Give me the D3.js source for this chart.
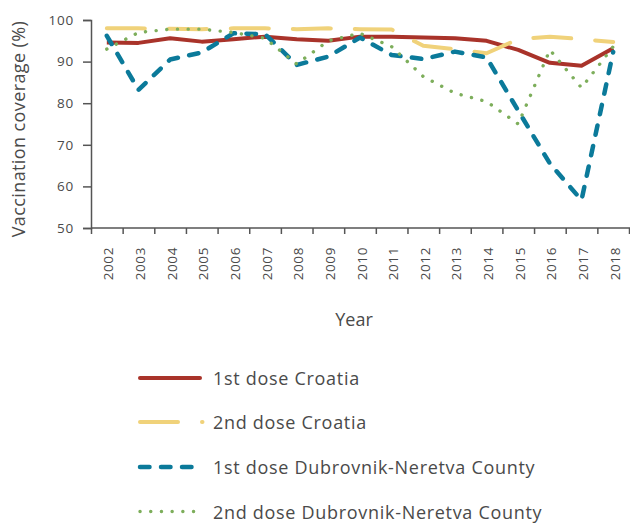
<!DOCTYPE html>
<html>
<head>
<meta charset="utf-8">
<script src="https://cdn.jsdelivr.net/npm/d3@7"></script>
<style>
  html, body { margin: 0; padding: 0; background: #fff; }
  svg { display: block; }
  text { font-family: "Open Sans", "Noto Sans", sans-serif; fill: #4a4a4a; }
</style>
</head>
<body>
<svg id="chart" width="630" height="525"></svg>
<script>
const years = ["2002","2003","2004","2005","2006","2007","2008","2009","2010","2011","2012","2013","2014","2015","2016","2017","2018"];
const yTicks = [50, 60, 70, 80, 90, 100];
const dose1Croatia = [94.6, 94.5, 95.6, 94.8, 95.4, 96.0, 95.4, 95.0, 96.0, 96.0, 95.8, 95.6, 95.0, 92.8, 89.7, 89.0, 93.2];
const dose2Croatia = [98.0, 98.0, 97.9, 97.8, 98.0, 98.0, 97.8, 98.0, 97.8, 97.7, 93.8, 93.0, 92.0, 95.4, 96.0, 95.4, 94.7];
const dose1Dubrovnik = [96.2, 83.2, 90.5, 92.2, 96.8, 96.6, 89.2, 91.2, 95.8, 91.6, 90.6, 92.4, 91.0, 78.2, 65.5, 56.7, 92.3];
const dose2Dubrovnik = [93.0, 97.0, 97.8, 97.8, 97.0, 95.6, 89.4, 95.0, 96.8, 93.6, 86.4, 82.4, 80.4, 75.0, 92.8, 83.7, 93.6];
const seriesNames = ["1st dose Croatia", "2nd dose Croatia", "1st dose Dubrovnik-Neretva County", "2nd dose Dubrovnik-Neretva County"];

const series = [
  {name: seriesNames[0], values: dose1Croatia, color: "#a9332a", width: 4, dash: null, cap: "butt"},
  {name: seriesNames[1], values: dose2Croatia, color: "#f0d27a", width: 4, dash: "38,24", cap: "round"},
  {name: seriesNames[2], values: dose1Dubrovnik, color: "#0b7a9a", width: 4.5, dash: "9.5,11.5", cap: "round"},
  {name: seriesNames[3], values: dose2Dubrovnik, color: "#7dae5b", width: 3.4, dash: "0.1,10.6", cap: "round"}
];

const svg = d3.select("#chart");
const x = d3.scaleBand().domain(years).range([91, 629]);
const y = d3.scaleLinear().domain([50, 100]).range([228, 20]);
const axisColor = "#555";

// Y axis
const gy = svg.append("g").attr("transform", "translate(91,0)")
  .call(d3.axisLeft(y).tickValues(yTicks).tickSize(8).tickPadding(9));
gy.selectAll("path, line").attr("stroke", axisColor).attr("stroke-width", 1.5);
gy.selectAll("text").style("font-family", "'Open Sans', sans-serif").style("font-size", "13.5px")
  .style("letter-spacing", "0.8px").attr("fill", "#4a4a4a");

// X axis ticks at band boundaries
const bounds = d3.scaleLinear().domain([0, years.length]).range([91, 629]);
const gxt = svg.append("g").attr("transform", "translate(0,228)")
  .call(d3.axisBottom(bounds).ticks(years.length).tickFormat("").tickSize(6).tickSizeOuter(0));
gxt.select(".domain").remove();
gxt.selectAll("line").attr("stroke", axisColor).attr("stroke-width", 1.5);
svg.append("line").attr("x1", 91).attr("x2", 630).attr("y1", 228).attr("y2", 228)
  .attr("stroke", axisColor).attr("stroke-width", 1.5);

// X labels
const gx = svg.append("g").attr("transform", "translate(0,228)")
  .call(d3.axisBottom(x).tickSize(0).tickPadding(0));
gx.select(".domain").remove();
gx.selectAll("text")
  .style("font-family", "'Open Sans', sans-serif").style("font-size", "13.5px")
  .style("letter-spacing", "0.6px").attr("fill", "#4a4a4a")
  .attr("text-anchor", "end")
  .attr("dy", null)
  .attr("y", 0)
  .attr("transform", "translate(1.5,19) rotate(-90)")
  .attr("dominant-baseline", "central");

// Axis titles
svg.append("text").attr("transform", "translate(24.5,129) rotate(-90)")
  .attr("text-anchor", "middle").style("font-size", "18px").style("letter-spacing", "0.4px")
  .text("Vaccination coverage (%)");
svg.append("text").attr("x", 354).attr("y", 326)
  .attr("text-anchor", "middle").style("font-size", "18px").text("Year");

// Lines
const line = d3.line().x((d, i) => x(years[i]) + x.bandwidth() / 2).y(d => y(d));
series.forEach(s => {
  svg.append("path").datum(s.values)
    .attr("d", line)
    .attr("fill", "none")
    .attr("stroke", s.color)
    .attr("stroke-width", s.width)
    .attr("stroke-dasharray", s.dash)
    .attr("stroke-linecap", s.cap)
    .attr("stroke-linejoin", "round");
});

// Legend
const legendY = [378, 422, 467, 511.5];
series.forEach((s, i) => {
  const g = svg.append("g").attr("transform", `translate(0,${legendY[i]})`);
  g.append("line").attr("x1", 140).attr("x2", i === 1 ? 202.5 : 200).attr("y1", 0).attr("y2", 0)
    .attr("stroke", s.color).attr("stroke-width", s.width)
    .attr("stroke-dasharray", s.dash)
    .attr("stroke-linecap", "round");
  g.append("text").attr("x", 213).attr("y", 7).style("font-size", "18px")
    .style("letter-spacing", "0.7px").text(s.name);
});
</script>
</body>
</html>
